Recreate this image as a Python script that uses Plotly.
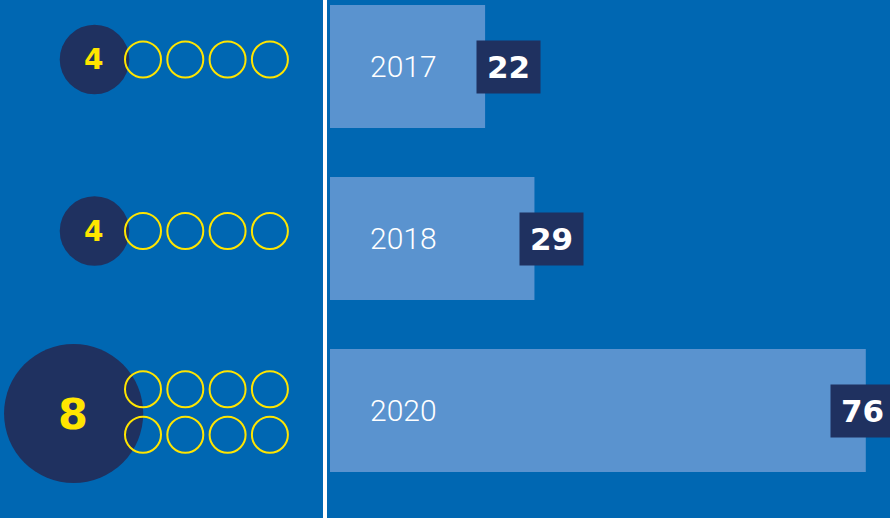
import plotly.graph_objects as go

# ---- data ----
years = ["2017", "2018", "2020"]
bar_values = [22, 29, 76]
circle_counts = [4, 4, 8]

# ---- style ----
BG = "#0067B2"
BAR = "#5A93CF"
NAVY = "#1F3160"
YELLOW = "#FFE500"
W, H = 890, 518
PANEL_X = 330          # px where bar axis starts
PX_PER_UNIT = 7.05
ROW_STEP = 172         # px between bar rows
FIRST_ROW = 66.5       # px center of first bar row
BAR_THICK = 123

# left panel layout (pixel units)
L_FIRST = 59.5
L_STEP = 171.5
L_EXTRA_PER_ROW = 9.5
SMALL_X0 = 143
SMALL_DX = 42.3
SMALL_DY = 45.5
PER_ROW = 4
BIG_ANCHOR = 115.4
BIG_K = 0.6
BIG_SIZE_PER = 17.4
LABEL_SHIFT = [23.5, 17.5, -3]

fig = go.Figure()

idx = list(range(len(years)))
fig.add_trace(go.Bar(
    x=bar_values, y=idx, orientation="h", width=BAR_THICK / ROW_STEP,
    marker=dict(color=BAR, line=dict(width=0)), hoverinfo="skip",
    xaxis="x", yaxis="y",
))

# left panel circles
big_x, big_y, big_s = [], [], []
sm_x, sm_y = [], []
annotations = []
for i, n in enumerate(circle_counts):
    nrows = (n + PER_ROW - 1) // PER_ROW
    cy = L_FIRST + i * L_STEP + (nrows - 1) * L_EXTRA_PER_ROW
    size = n * BIG_SIZE_PER
    cx = BIG_ANCHOR - BIG_K * size / 2
    big_x.append(cx)
    big_y.append(cy + (nrows - 1) * 1.5)
    big_s.append(size)
    for k in range(n):
        r, c = divmod(k, PER_ROW)
        sm_x.append(SMALL_X0 + c * SMALL_DX)
        sm_y.append(cy + (r - (nrows - 1) / 2) * SMALL_DY)
    annotations.append(dict(
        xref="x2", yref="y2", x=cx - 1, y=cy + (nrows - 1) * 1.5, text=str(n),
        showarrow=False, xanchor="center", yanchor="middle",
        font=dict(family="DejaVu Sans", size=28 if nrows == 1 else 43, color=YELLOW, weight="bold"),
    ))

fig.add_trace(go.Scatter(
    x=big_x, y=big_y, mode="markers", xaxis="x2", yaxis="y2", cliponaxis=False,
    marker=dict(size=big_s, color=NAVY, line=dict(width=0), opacity=1),
    hoverinfo="skip",
))
fig.add_trace(go.Scatter(
    x=sm_x, y=sm_y, mode="markers", xaxis="x2", yaxis="y2", cliponaxis=False,
    marker=dict(size=36, color="rgba(0,0,0,0)", line=dict(width=2, color=YELLOW)),
    hoverinfo="skip",
))

for i, (yr, v) in enumerate(zip(years, bar_values)):
    annotations.append(dict(
        xref="x", yref="y", x=0, y=i, xshift=73, text=yr, showarrow=False,
        xanchor="center", yanchor="middle",
        font=dict(family="Roboto", size=30, color="white", weight=300),
    ))
    annotations.append(dict(
        xref="x", yref="y", x=v, y=i, xshift=LABEL_SHIFT[i], text=str(v), showarrow=False,
        xanchor="center", yanchor="middle", width=63, height=52, borderpad=0,
        bgcolor=NAVY, font=dict(family="DejaVu Sans", size=31, color="white", weight="bold"),
    ))

top = -FIRST_ROW / ROW_STEP
bottom = (H - FIRST_ROW) / ROW_STEP
fig.update_layout(
    width=W, height=H, margin=dict(l=0, r=0, t=0, b=0),
    paper_bgcolor=BG, plot_bgcolor=BG, showlegend=False,
    xaxis=dict(domain=[PANEL_X / W, 1], range=[0, (W - PANEL_X) / PX_PER_UNIT], visible=False, fixedrange=True),
    yaxis=dict(domain=[0, 1], range=[bottom, top], visible=False, fixedrange=True),
    xaxis2=dict(domain=[0, PANEL_X / W], range=[0, PANEL_X], anchor="y2", visible=False, fixedrange=True),
    yaxis2=dict(domain=[0, 1], range=[H, 0], anchor="x2", visible=False, fixedrange=True),
    annotations=annotations,
    shapes=[dict(type="line", xref="paper", yref="paper", x0=325 / W, x1=325 / W, y0=0, y1=1,
                 line=dict(color="white", width=4), layer="above")],
)

fig.write_html(
    "out.html",
    config={"displayModeBar": False, "staticPlot": True},
    post_script="document.body.style.margin='0';document.body.style.padding='0';"
                "document.body.style.overflow='hidden';document.body.style.background='" + BG + "';",
)
